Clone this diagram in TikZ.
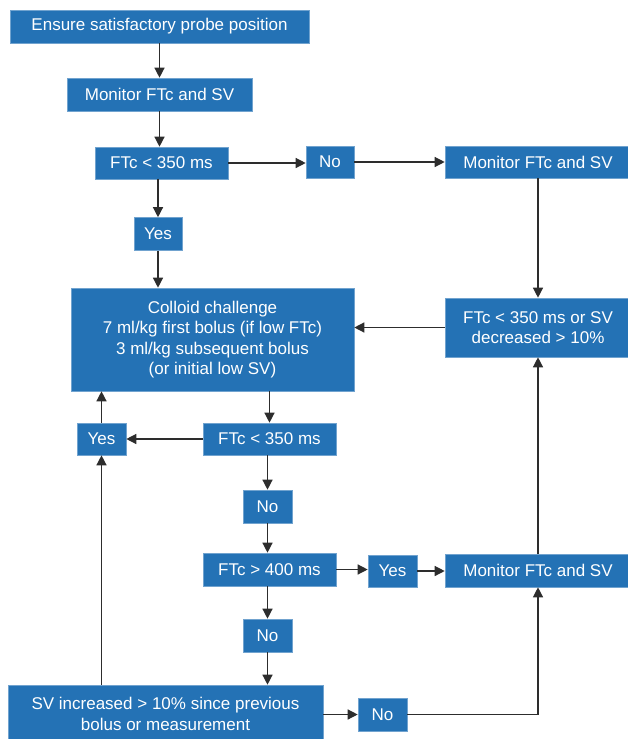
\documentclass[tikz,border=0pt]{standalone}
\usepackage{fontspec}
\setmainfont{Liberation Sans}
\usetikzlibrary{arrows.meta}
\definecolor{boxblue}{RGB}{36,114,181}
\definecolor{lineblk}{RGB}{45,45,45}
\tikzset{
 box/.style={fill=boxblue, draw=boxblue!65!white, line width=.6pt, text=white, inner sep=0pt, align=center,
   font=\fontsize{17}{20.5}\selectfont},
 link/.style={-{Triangle[length=10pt,width=10pt]}, draw=lineblk, line width=1.3pt},
}
\begin{document}
\begin{tikzpicture}[x=1pt,y=-1pt]
 \useasboundingbox (0,0) rectangle (627,739);

 \node[box, minimum width=299, minimum height=33] (ensure) at (159.5,26.5){Ensure satisfactory probe position};
 \node[box, minimum width=185, minimum height=33] (mon1) at (159.5,94.5){Monitor FTc and SV};
 \node[box, minimum width=133, minimum height=32] (ftc1) at (161.5,163){FTc < 350 ms};
 \node[box, minimum width=48, minimum height=33] (yes1) at (158,234){Yes};
 \node[box, minimum width=48, minimum height=32] (no1) at (330,162){No};
 \node[box, minimum width=186, minimum height=32] (mon2) at (538,162){Monitor FTc and SV};
 \node[box, minimum width=186, minimum height=59] (dec) at (538,327.5){FTc < 350 ms or SV\\decreased > 10\%};
 \node[box, minimum width=283, minimum height=103] (colloid) at (212.5,339.5){Colloid challenge\\7 ml/kg first bolus (if low FTc)\\3 ml/kg subsequent bolus\\(or initial low SV)};
 \node[box, minimum width=49, minimum height=32] (yes2) at (101.5,439){Yes};
 \node[box, minimum width=133, minimum height=32] (ftc2) at (269.5,439){FTc < 350 ms};
 \node[box, minimum width=49, minimum height=33] (no2) at (267.5,506.5){No};
 \node[box, minimum width=133, minimum height=33] (ftc3) at (269.5,569.5){FTc > 400 ms};
 \node[box, minimum width=49, minimum height=32] (yes3) at (392.5,571){Yes};
 \node[box, minimum width=186, minimum height=33] (mon3) at (538,570.5){Monitor FTc and SV};
 \node[box, minimum width=49, minimum height=33] (no3) at (267.5,635.5){No};
 \node[box, minimum width=315, minimum height=58] (sv) at (165.5,714){SV increased > 10\% since previous\\bolus or measurement};
 \node[box, minimum width=49, minimum height=33] (no4) at (382.5,714.5){No};

 % top column
 \draw[link](ensure.south)--(ensure.south |- mon1.north);
 \draw[link](mon1.south)--(mon1.south |- ftc1.north);
 \draw[link](yes1.north |- ftc1.south)--(yes1.north);
 \draw[link](yes1.south)--(yes1.south |- colloid.north);
 % right branch
 \draw[link](ftc1.east)--(ftc1.east -| no1.west);
 \draw[link](no1.east)--(no1.east -| mon2.west);
 \draw[link](mon2.south)--(dec.north);
 \draw[link](dec.west)--(dec.west -| colloid.east);
 % lower column
 \draw[link](ftc2.north |- colloid.south)--(ftc2.north);
 \draw[link](ftc2.west)--(yes2.east);
 \draw[link](yes2.north)--(yes2.north |- colloid.south);
 \draw[link](no2.north |- ftc2.south)--(no2.north);
 \draw[link](no2.south)--(no2.south |- ftc3.north);
 \draw[link](ftc3.east)--(ftc3.east -| yes3.west);
 \draw[link](yes3.east)--(yes3.east -| mon3.west);
 \draw[link](mon3.north)--(dec.south);
 \draw[link](no3.north |- ftc3.south)--(no3.north);
 \draw[link](no3.south)--(no3.south |- sv.north);
 \draw[link](sv.east |- no4.west)--(no4.west);
 \draw[link](no4.east)-|(mon3.south);
 \draw[link](sv.north -| yes2.south)--(yes2.south);

\end{tikzpicture}
\end{document}
